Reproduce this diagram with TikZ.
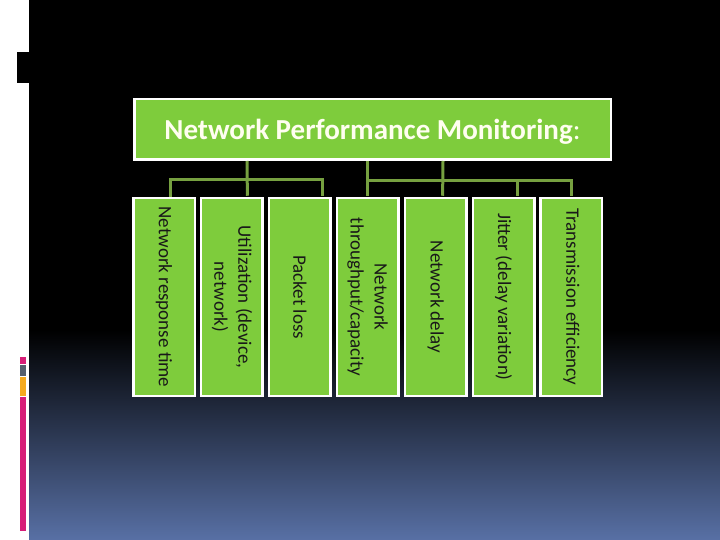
\documentclass[tikz,border=0pt]{standalone}
\usepackage{fontspec}
\setmainfont{Carlito}
\definecolor{leafgreen}{HTML}{7ECC3C}
\definecolor{linkgreen}{HTML}{76A040}
\definecolor{slideblue}{RGB}{88,112,165}
\definecolor{barpink}{HTML}{D71E78}
\definecolor{bargray}{RGB}{85,95,110}
\definecolor{barorange}{RGB}{245,170,30}

\tikzset{
  titlebox/.style={rectangle, draw=white, line width=2.5pt, fill=leafgreen,
        minimum width=476.5pt, minimum height=60.5pt, text depth=0pt,
        text=white!94!yellow, font=\fontsize{29}{34}\selectfont},
  leafbox/.style={rectangle, draw=white, line width=2.5pt, fill=leafgreen,
        rotate=-90, minimum width=197.5pt, minimum height=61.5pt,
        inner sep=1pt, align=center, text=black!90,
        font=\fontsize{19}{24}\selectfont},
  link/.style={draw=linkgreen, line width=3pt, shorten >=1.25pt}
}

\begin{document}
\begin{tikzpicture}[x=1pt, y=-1pt]
  \useasboundingbox (0,0) rectangle (720,540);
  % slide background: white margin, black field fading to blue
  \fill[white] (0,0) rectangle (29,540);
  \fill[black] (29,0) rectangle (720,540);
  \shade[top color=black, bottom color=slideblue] (29,330) rectangle (720,540);
  \fill[black] (17,52) rectangle (29,83);
  \fill[barpink] (20,357) rectangle (26,364);
  \fill[bargray] (20,365) rectangle (26,376);
  \fill[barorange] (20,377) rectangle (26,396);
  \fill[barpink] (20,397) rectangle (26,531);

  % root of the hierarchy
  \node[titlebox] (npm) at (372.5,129.5)
    {\textbf{Network Performance Monitoring}:};

  % the seven metrics, read top to bottom (west anchor = top edge)
  \foreach \i/\txt in {1/{Network response time},
                       2/{Utilization (device,\\network)},
                       3/{Packet loss},
                       4/{Network\\throughput/capacity},
                       5/{Network delay},
                       6/{Jitter (delay variation)},
                       7/{Transmission efficiency}}
    \node[leafbox] (m\i) at ({164+(\i-1)*67.9},297) {\txt};

  % branch points
  \coordinate (jl) at (247,180);
  \coordinate (jr) at (443,181);
  \coordinate (d1) at ([xshift=6pt]m1.west);
  \coordinate (d2) at ([xshift=15.5pt]m2.west);
  \coordinate (d3) at ([xshift=23pt]m3.west);
  \coordinate (d5) at ([xshift=7pt]m5.west);
  \coordinate (d6) at ([xshift=13.5pt]m6.west);

  % left group
  \draw[link] (npm.south -| jl) -- (d2);
  \draw[link] (d1) |- (jl) -| (d3);
  % right group
  \draw[link] (npm.south -| m4.west) -- (m4.west);
  \draw[link] (npm.south -| jr) -- (d5);
  \draw[link] (m4.west |- jr) -| (m7.west);
  \draw[link] (d6 |- jr) -- (d6);
\end{tikzpicture}
\end{document}
